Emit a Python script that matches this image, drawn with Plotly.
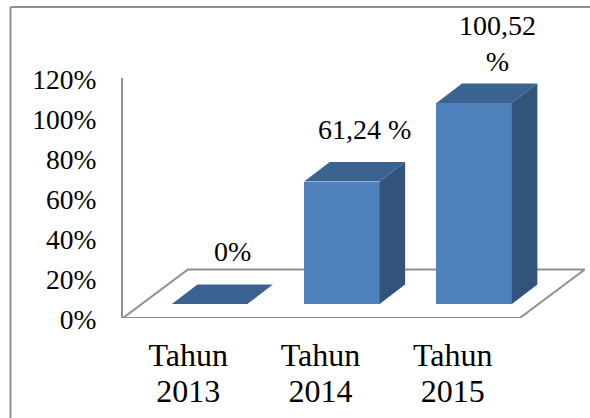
import plotly.graph_objects as go

category_words = ["Tahun", "Tahun", "Tahun"]
category_years = ["2013", "2014", "2015"]
values = [0, 61.24, 100.52]
bar_labels = ["0%", "61,24 %", "100,52<br>%"]
tick_values = [0, 20, 40, 60, 80, 100, 120]
tick_labels = ["0%", "20%", "40%", "60%", "80%", "100%", "120%"]

FONT = "Liberation Serif"
GREY = "#8F8F8F"
W, H = 590, 418
L, R, T, B = 123, 5, 78, 100
PW = W - L - R
PH = H - T - B

# 3D projection in axis units
X0, X1 = -0.5, 2.993
floor_dx, floor_dy = 0.491, 24.25
bar_base, bar_shift = 7, 0.155
bar_dx, bar_dy = 0.193, 9.75
half = 0.285
pos = list(range(len(values)))
centers = [p + bar_shift for p in pos]
label_lift = [16, 15, 4]

fig = go.Figure()

# floor
fig.add_trace(go.Scatter(
    x=[X0, 2.5, 2.5 + floor_dx, X0 + floor_dx, X0],
    y=[0, 0, floor_dy, floor_dy, 0],
    mode="lines", line=dict(color=GREY, width=2), xaxis="x", yaxis="y",
    cliponaxis=False, hoverinfo="skip", showlegend=False,
))

# front faces
fig.add_trace(go.Bar(
    x=centers, y=values, base=bar_base, width=2 * half,
    marker=dict(color="#4F81BD", line=dict(width=0)),
    xaxis="x2", yaxis="y2", showlegend=False,
))

# top and side faces
top_x, top_y, side_x, side_y = [], [], [], []
for c, v in zip(centers, values):
    t = bar_base + v
    top_x += [c - half, c + half, c + half + bar_dx, c - half + bar_dx, c - half, None]
    top_y += [t, t, t + bar_dy, t + bar_dy, t, None]
    side_x += [c + half, c + half + bar_dx, c + half + bar_dx, c + half, c + half, None]
    side_y += [bar_base, bar_base + bar_dy, t + bar_dy, t, bar_base, None]

fig.add_trace(go.Scatter(x=side_x, y=side_y, mode="lines", fill="toself",
                         fillcolor="#32537C", line=dict(width=0, color="#32537C"),
                         xaxis="x2", yaxis="y2", hoverinfo="skip", showlegend=False,
                         cliponaxis=False))
fig.add_trace(go.Scatter(x=top_x, y=top_y, mode="lines", fill="toself",
                         fillcolor="#3B6391", line=dict(width=0, color="#3B6391"),
                         xaxis="x2", yaxis="y2", hoverinfo="skip", showlegend=False,
                         cliponaxis=False))

# value labels
annotations = [
    dict(x=c + bar_dx * 0.9, y=bar_base + v + bar_dy, xref="x2", yref="y2",
         text=lab, showarrow=False, xanchor="center", yanchor="bottom", yshift=lift,
         font=dict(family=FONT, size=28, color="#000000"))
    for c, v, lab, lift in zip(centers, values, bar_labels, label_lift)
]

def px(x):
    return (x - L) / PW
def py(y):
    return 1 - (y - T) / PH

fig.update_layout(
    width=W, height=H, autosize=False,
    margin=dict(l=L, r=R, t=T, b=B),
    paper_bgcolor="#FFFFFF", plot_bgcolor="rgba(0,0,0,0)",
    bargap=0, showlegend=False, annotations=annotations,
    xaxis=dict(range=[X0, X1], tickvals=pos, ticktext=category_words,
               showline=False, showgrid=False, zeroline=False, ticks="",
               tickfont=dict(family=FONT, size=32, color="#000000"),
               ticklabelstandoff=15, ticklabelshift=-1, automargin=False),
    yaxis=dict(range=[0, 120], tickvals=tick_values, ticktext=tick_labels,
               showline=True, linecolor=GREY, linewidth=2, showgrid=False,
               zeroline=False, ticks="",
               tickfont=dict(family=FONT, size=27.5, color="#000000"),
               ticklabelstandoff=19, ticklabelshift=1, automargin=False),
    xaxis2=dict(overlaying="x", matches="x", tickvals=pos, ticktext=category_years,
                showline=False, showgrid=False, zeroline=False, ticks="",
                tickfont=dict(family=FONT, size=32, color="#000000"),
                ticklabelstandoff=51, ticklabelshift=-1, automargin=False),
    yaxis2=dict(overlaying="y", matches="y", visible=False),
    shapes=[
        dict(type="line", xref="paper", yref="paper", x0=px(10.5), x1=px(590),
             y0=py(7), y1=py(7), line=dict(color=GREY, width=2)),
        dict(type="line", xref="paper", yref="paper", x0=px(10.5), x1=px(10.5),
             y0=py(7), y1=py(418), line=dict(color=GREY, width=2)),
    ],
)

fig.write_html("out.html", config=dict(displayModeBar=False),
               post_script="document.body.style.margin='0';document.documentElement.style.overflow='hidden';")
